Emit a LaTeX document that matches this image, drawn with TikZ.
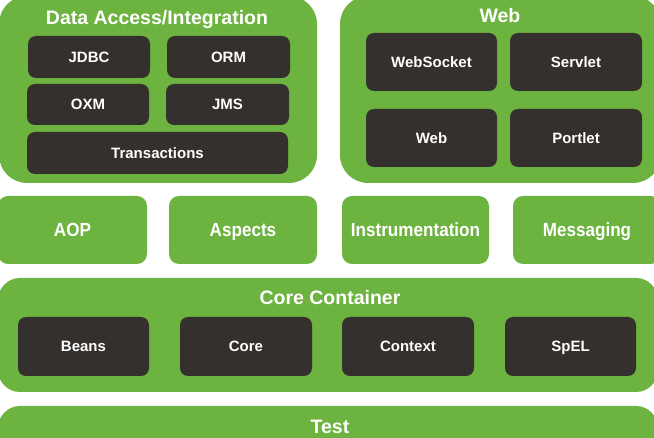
\documentclass[tikz,border=0pt]{standalone}
\usepackage{fontspec}
\setmainfont{Liberation Sans}
\newfontfamily\narrowfont{Liberation Sans}[FakeStretch=0.9]
\definecolor{springgreen}{HTML}{6DB33F}
\definecolor{springdark}{HTML}{34302D}
\tikzset{
  greenbox/.style={fill=springgreen, rounded corners=28pt, inner sep=0pt, outer sep=0pt},
  wideboxes/.style={fill=springgreen, rounded corners=22pt, inner sep=0pt, outer sep=0pt},
  midbox/.style={fill=springgreen, rounded corners=10pt, inner sep=0pt, outer sep=0pt,
    text=white, font=\narrowfont\bfseries\fontsize{19}{22}\selectfont, text height=13.6pt, text depth=0pt},
  darkbox/.style={fill=springdark, rounded corners=8pt, inner sep=0pt, outer sep=0pt,
    text=white, font=\bfseries\fontsize{15}{18}\selectfont, text height=10.7pt, text depth=0pt},
  titletext/.style={text=white, inner sep=0pt, font=\bfseries\fontsize{19.5}{23}\selectfont, text height=14pt, text depth=0pt},
}
\begin{document}
\begin{tikzpicture}[x=1pt, y=-1pt]
\useasboundingbox (0,0) rectangle (654,438);
\clip (0,0) rectangle (654,438);
% Data Access / Integration
\node[greenbox, minimum width=318pt, minimum height=187pt] (da) at (158,89.5) {};
\node[titletext] (datitle) at (157,18) {Data Access/Integration};
\node[darkbox, minimum width=122pt, minimum height=42pt] (jdbc) at (89,57) {JDBC};
\node[darkbox, minimum width=123pt, minimum height=42pt] (orm) at (228.5,57) {ORM};
\node[darkbox, minimum width=122pt, minimum height=41pt] (oxm) at (88,104.5) {OXM};
\node[darkbox, minimum width=123pt, minimum height=41pt] (jms) at (227.5,104.5) {JMS};
\node[darkbox, minimum width=261pt, minimum height=42pt] (tx) at (157.5,153) {Transactions};
% Web
\node[greenbox, minimum width=321pt, minimum height=187pt] (web) at (500.5,89.5) {};
\node[titletext] (webtitle) at (500,16) {Web};
\node[darkbox, minimum width=131pt, minimum height=58pt] (websocket) at (431.5,62) {WebSocket};
\node[darkbox, minimum width=132pt, minimum height=58pt] (servlet) at (576,62) {Servlet};
\node[darkbox, minimum width=131pt, minimum height=58pt] (webmod) at (431.5,138) {Web};
\node[darkbox, minimum width=132pt, minimum height=58pt] (portlet) at (576,138) {Portlet};
% middle row
\node[midbox, minimum width=149pt, minimum height=68pt] (aop) at (72.5,230) {AOP};
\node[midbox, minimum width=148pt, minimum height=68pt] (aspects) at (243,230) {Aspects};
\node[midbox, minimum width=147pt, minimum height=68pt] (instr) at (415.5,230) {Instrumentation};
\node[midbox, minimum width=148pt, minimum height=68pt] (msg) at (587,230) {Messaging};
% Core Container
\node[wideboxes, minimum width=660pt, minimum height=114pt] (cc) at (328,335) {};
\node[titletext] (cctitle) at (330,298) {Core Container};
\node[darkbox, minimum width=131pt, minimum height=59pt] (beans) at (83.5,346.5) {Beans};
\node[darkbox, minimum width=132pt, minimum height=59pt] (core) at (246,346.5) {Core};
\node[darkbox, minimum width=132pt, minimum height=59pt] (context) at (408,346.5) {Context};
\node[darkbox, minimum width=131pt, minimum height=59pt] (spel) at (570.5,346.5) {SpEL};
% Test
\node[wideboxes, minimum width=660pt, minimum height=64pt] (test) at (328,438) {};
\node[titletext] (testtitle) at (330,427) {Test};
\end{tikzpicture}
\end{document}
